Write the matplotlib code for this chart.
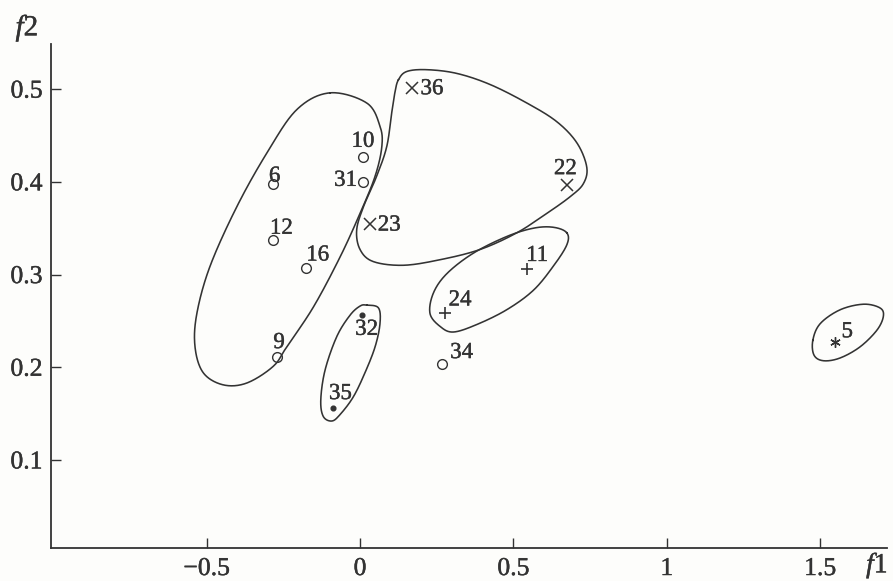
import numpy as np
import matplotlib
matplotlib.use('Agg')
import matplotlib.pyplot as plt
import matplotlib.patheffects as pe

plt.rcParams['font.family'] = ['Liberation Serif', 'DejaVu Serif']
plt.rcParams['mathtext.fontset'] = 'custom'
plt.rcParams['mathtext.rm'] = 'Liberation Serif'
plt.rcParams['mathtext.it'] = 'Liberation Serif:italic'

INK = '#333333'
# a hair of stroke so the serif text prints about as heavily as the line work
HEAVY = [pe.withStroke(linewidth=0.3, foreground=INK)]

# ---- objects in the (f1, f2) plane, grouped by marker ----
circle_ids = ['6', '12', '16', '9', '10', '31', '34']
circle_f1 = [-0.285, -0.283, -0.176, -0.272, 0.009, 0.011, 0.266]
circle_f2 = [0.398, 0.337, 0.307, 0.211, 0.427, 0.400, 0.204]

cross_ids = ['36', '23', '22']
cross_f1 = [0.169, 0.033, 0.674]
cross_f2 = [0.501, 0.355, 0.397]

plus_ids = ['24', '11']
plus_f1 = [0.277, 0.544]
plus_f2 = [0.258, 0.306]

dot_ids = ['32', '35']
dot_f1 = [0.005, -0.087]
dot_f2 = [0.256, 0.156]

star_ids = ['5']
star_f1 = [1.549]
star_f2 = [0.227]

# ---- cluster outlines (control points of closed curves) ----
group1_f1 = [-0.098, 0.022, 0.065, 0.071, 0.049, 0.0, -0.065, -0.152, -0.239, -0.283,
             -0.369, -0.446, -0.511, -0.538, -0.532, -0.489, -0.402, -0.304, -0.206]
group1_f2 = [0.496, 0.485, 0.460, 0.438, 0.406, 0.366, 0.319, 0.265, 0.222, 0.201,
             0.183, 0.181, 0.194, 0.222, 0.258, 0.309, 0.373, 0.431, 0.478]

group2_f1 = [0.125, 0.152, 0.217, 0.315, 0.424, 0.544, 0.641, 0.707, 0.739, 0.728, 0.685, 0.609,
             0.511, 0.391, 0.261, 0.141, 0.043, 0.0, -0.011, 0.011, 0.054, 0.087, 0.103, 0.114]
group2_f2 = [0.510, 0.519, 0.521, 0.517, 0.505, 0.485, 0.465, 0.442, 0.416, 0.398, 0.384, 0.366,
             0.345, 0.327, 0.316, 0.310, 0.314, 0.327, 0.348, 0.373, 0.406, 0.438, 0.474, 0.497]

group3_f1 = [0.022, 0.060, 0.065, 0.049, 0.016, -0.022, -0.065, -0.092, -0.120, -0.128,
             -0.114, -0.076, -0.033, 0.0]
group3_f2 = [0.267, 0.264, 0.247, 0.222, 0.194, 0.168, 0.149, 0.142, 0.147, 0.165,
             0.197, 0.233, 0.256, 0.266]

group4_f1 = [0.674, 0.630, 0.565, 0.478, 0.369, 0.283, 0.239, 0.228, 0.261, 0.304,
             0.380, 0.478, 0.565, 0.630, 0.674]
group4_f2 = [0.345, 0.351, 0.350, 0.341, 0.323, 0.301, 0.280, 0.258, 0.244, 0.238,
             0.246, 0.262, 0.283, 0.309, 0.332]

group5_f1 = [1.476, 1.500, 1.565, 1.641, 1.695, 1.706, 1.685, 1.630, 1.565, 1.511, 1.480]
group5_f2 = [0.229, 0.247, 0.262, 0.268, 0.264, 0.255, 0.240, 0.222, 0.210, 0.207, 0.213]

xticks = [-0.5, 0, 0.5, 1, 1.5]
xtick_labels = ['\u22120.5', '0', '0.5', '1', '1.5']
yticks = [0.1, 0.2, 0.3, 0.4, 0.5]
ytick_labels = ['0.1', '0.2', '0.3', '0.4', '0.5']

# label placement next to each mark, in pixels (dx, dy to baseline)
label_offsets = {
    '6': (2, 2), '12': (8, 6.5), '16': (11.5, 7.5), '9': (2.5, 9), '10': (0, 10),
    '31': (-18, -4), '34': (20, 5.5), '36': (20, -6), '23': (19, -7), '22': (-1.5, 10.5),
    '24': (15, 8), '11': (10, 8), '32': (5, -19.5), '35': (7, 9), '5': (12, 5),
}


def closed_curve(xs, ys, n=30):
    # periodic Catmull-Rom spline through the control points
    p = np.column_stack([xs, ys])
    m = len(p)
    t = np.linspace(0, 1, n, endpoint=False)[:, None]
    segs = []
    for i in range(m):
        p0, p1, p2, p3 = p[(i - 1) % m], p[i], p[(i + 1) % m], p[(i + 2) % m]
        segs.append(0.5 * (2 * p1 + (p2 - p0) * t
                           + (2 * p0 - 5 * p1 + 4 * p2 - p3) * t ** 2
                           + (3 * p1 - p0 - 3 * p2 + p3) * t ** 3))
    out = np.vstack(segs + [p[:1]])
    return out[:, 0], out[:, 1]


fig = plt.figure(figsize=(8.93, 5.81), dpi=100, facecolor='#fdfdfb')
ax = fig.add_axes([0.0571, 0.0563, 0.9359, 0.8675])
ax.set_facecolor('none')
ax.set_xlim(-1.0075, 1.717)
ax.set_ylim(0.0047, 0.5484)

for sp in ['top', 'right']:
    ax.spines[sp].set_visible(False)
for sp in ['left', 'bottom']:
    ax.spines[sp].set_color(INK)
    ax.spines[sp].set_linewidth(1.3)

ax.set_xticks(xticks)
ax.set_xticklabels(xtick_labels)
ax.set_yticks(yticks)
ax.set_yticklabels(ytick_labels)
ax.tick_params(direction='in', length=7.2, width=1.0, colors=INK, labelsize=18.5)
ax.tick_params(axis='x', pad=7)
ax.tick_params(axis='y', pad=6)
for lab in ax.get_xticklabels() + ax.get_yticklabels():
    lab.set_path_effects(HEAVY)

# cluster outlines
for gx, gy in [(group1_f1, group1_f2), (group2_f1, group2_f2), (group3_f1, group3_f2),
               (group4_f1, group4_f2), (group5_f1, group5_f2)]:
    cx, cy = closed_curve(gx, gy)
    ax.plot(cx, cy, color=INK, lw=1.15, clip_on=False)

# markers
ax.plot(circle_f1, circle_f2, 'o', ms=7, mfc='none', mec=INK, mew=1.0, clip_on=False)
ax.plot(cross_f1, cross_f2, 'x', ms=9, mec=INK, mew=1.1, clip_on=False)
ax.plot(plus_f1, plus_f2, '+', ms=8.5, mec=INK, mew=1.2, clip_on=False)
ax.plot(dot_f1, dot_f2, 'o', ms=3.4, mfc=INK, mec=INK, clip_on=False)
ax.plot(star_f1, star_f2, marker=(6, 2, 0), ls='none', ms=7.5, mec=INK, mew=1.0, clip_on=False)

for ids, fx, fy in [(circle_ids, circle_f1, circle_f2), (cross_ids, cross_f1, cross_f2),
                    (plus_ids, plus_f1, plus_f2), (dot_ids, dot_f1, dot_f2),
                    (star_ids, star_f1, star_f2)]:
    for name, x, y in zip(ids, fx, fy):
        ax.annotate(name, (x, y), xytext=label_offsets[name], textcoords='offset pixels',
                    ha='center', va='baseline', fontsize=16.5, color=INK, path_effects=HEAVY)

# axis names
fig.text(27 / 893, 1 - 28 / 581, r'$f$2', ha='center', va='center', fontsize=21,
         color=INK, path_effects=HEAVY)
fig.text(877 / 893, 1 - 566 / 581, r'$f$1', ha='center', va='center', fontsize=20,
         color=INK, path_effects=HEAVY)

fig.savefig('out.png', dpi=100, facecolor=fig.get_facecolor())
